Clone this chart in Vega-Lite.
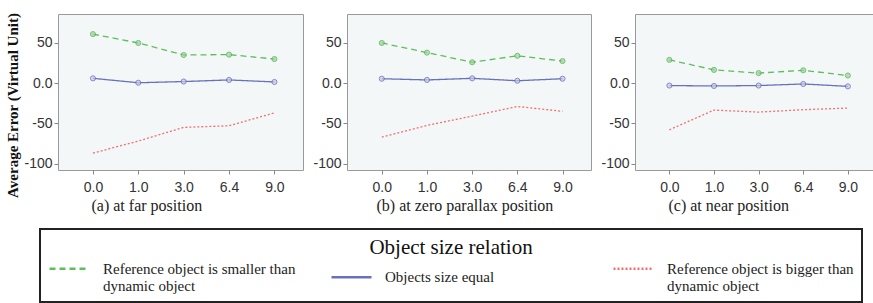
{
  "$schema": "https://vega.github.io/schema/vega-lite/v6.json",
  "padding": {"left": 5, "top": 11, "right": 0, "bottom": 0},
  "background": "white",
  "spacing": 8,
  "data": {"values": [
    {"panel": "a", "speed": "0.0", "series": "Reference object is smaller than dynamic object", "error": 61},
    {"panel": "a", "speed": "1.0", "series": "Reference object is smaller than dynamic object", "error": 50},
    {"panel": "a", "speed": "3.0", "series": "Reference object is smaller than dynamic object", "error": 35},
    {"panel": "a", "speed": "6.4", "series": "Reference object is smaller than dynamic object", "error": 35.5},
    {"panel": "a", "speed": "9.0", "series": "Reference object is smaller than dynamic object", "error": 30},
    {"panel": "a", "speed": "0.0", "series": "Objects size equal", "error": 6},
    {"panel": "a", "speed": "1.0", "series": "Objects size equal", "error": 0.5},
    {"panel": "a", "speed": "3.0", "series": "Objects size equal", "error": 2},
    {"panel": "a", "speed": "6.4", "series": "Objects size equal", "error": 4},
    {"panel": "a", "speed": "9.0", "series": "Objects size equal", "error": 1.5},
    {"panel": "a", "speed": "0.0", "series": "Reference object is bigger than dynamic object", "error": -87},
    {"panel": "a", "speed": "1.0", "series": "Reference object is bigger than dynamic object", "error": -72},
    {"panel": "a", "speed": "3.0", "series": "Reference object is bigger than dynamic object", "error": -55},
    {"panel": "a", "speed": "6.4", "series": "Reference object is bigger than dynamic object", "error": -53},
    {"panel": "a", "speed": "9.0", "series": "Reference object is bigger than dynamic object", "error": -37},
    {"panel": "b", "speed": "0.0", "series": "Reference object is smaller than dynamic object", "error": 50},
    {"panel": "b", "speed": "1.0", "series": "Reference object is smaller than dynamic object", "error": 38},
    {"panel": "b", "speed": "3.0", "series": "Reference object is smaller than dynamic object", "error": 26},
    {"panel": "b", "speed": "6.4", "series": "Reference object is smaller than dynamic object", "error": 34},
    {"panel": "b", "speed": "9.0", "series": "Reference object is smaller than dynamic object", "error": 27.5},
    {"panel": "b", "speed": "0.0", "series": "Objects size equal", "error": 5.5},
    {"panel": "b", "speed": "1.0", "series": "Objects size equal", "error": 4},
    {"panel": "b", "speed": "3.0", "series": "Objects size equal", "error": 6},
    {"panel": "b", "speed": "6.4", "series": "Objects size equal", "error": 3},
    {"panel": "b", "speed": "9.0", "series": "Objects size equal", "error": 5.5},
    {"panel": "b", "speed": "0.0", "series": "Reference object is bigger than dynamic object", "error": -67},
    {"panel": "b", "speed": "1.0", "series": "Reference object is bigger than dynamic object", "error": -52.5},
    {"panel": "b", "speed": "3.0", "series": "Reference object is bigger than dynamic object", "error": -41},
    {"panel": "b", "speed": "6.4", "series": "Reference object is bigger than dynamic object", "error": -29},
    {"panel": "b", "speed": "9.0", "series": "Reference object is bigger than dynamic object", "error": -35},
    {"panel": "c", "speed": "0.0", "series": "Reference object is smaller than dynamic object", "error": 29},
    {"panel": "c", "speed": "1.0", "series": "Reference object is smaller than dynamic object", "error": 16.5},
    {"panel": "c", "speed": "3.0", "series": "Reference object is smaller than dynamic object", "error": 12.5},
    {"panel": "c", "speed": "6.4", "series": "Reference object is smaller than dynamic object", "error": 16},
    {"panel": "c", "speed": "9.0", "series": "Reference object is smaller than dynamic object", "error": 9.5},
    {"panel": "c", "speed": "0.0", "series": "Objects size equal", "error": -3},
    {"panel": "c", "speed": "1.0", "series": "Objects size equal", "error": -3.5},
    {"panel": "c", "speed": "3.0", "series": "Objects size equal", "error": -3},
    {"panel": "c", "speed": "6.4", "series": "Objects size equal", "error": -1},
    {"panel": "c", "speed": "9.0", "series": "Objects size equal", "error": -4},
    {"panel": "c", "speed": "0.0", "series": "Reference object is bigger than dynamic object", "error": -58},
    {"panel": "c", "speed": "1.0", "series": "Reference object is bigger than dynamic object", "error": -33.5},
    {"panel": "c", "speed": "3.0", "series": "Reference object is bigger than dynamic object", "error": -36},
    {"panel": "c", "speed": "6.4", "series": "Reference object is bigger than dynamic object", "error": -33},
    {"panel": "c", "speed": "9.0", "series": "Reference object is bigger than dynamic object", "error": -31}
  ]},
  "config": {
    "view": {"stroke": "#9a9a9a", "strokeWidth": 1, "fill": "#f4f7f7"},
    "axis": {"labelFont": "Liberation Sans", "labelFontSize": 14, "labelColor": "#333333", "tickColor": "#888888", "domain": false, "grid": false, "tickSize": 4, "labelPadding": 2},
    "legend": {
      "orient": "none", "legendX": -18, "legendY": 215, "direction": "horizontal", "columns": 3, "gridAlign": "all", "columnPadding": 30,
      "titleFont": "Liberation Serif", "titleFontSize": 21, "titleFontWeight": "normal", "titleColor": "#111111", "titleAnchor": "middle", "titlePadding": -11,
      "labelFont": "Liberation Serif", "labelFontSize": 15, "labelColor": "#222222", "labelLimit": 300, "labelOffset": 12,
      "symbolType": "stroke", "symbolSize": 1600, "symbolStrokeWidth": 2.5,
      "strokeColor": "#222222", "strokeWidth": 2, "padding": 8
    }
  },
  "hconcat": [
    {
      "width": 245, "height": 156,
      "transform": [{"filter": "datum.panel == 'a'"}],
      "encoding": {
        "x": {"field": "speed", "type": "ordinal", "sort": ["0.0", "1.0", "3.0", "6.4", "9.0"], "scale": {"type": "point", "padding": 0.7, "align": 0.55},
              "axis": {"labelAngle": 0, "labelPadding": 6, "title": "(a)  at far position", "titleFont": "Liberation Serif", "titleFontSize": 16, "titleFontWeight": "normal", "titleColor": "#222222", "titleX": 33, "titleAlign": "left", "titlePadding": 3}},
        "y": {"field": "error", "type": "quantitative", "scale": {"domain": [-108, 86], "nice": false, "zero": false},
              "axis": {"values": [-100, -50, 0, 50], "labelExpr": "datum.value == 0 ? '0.0' : '' + datum.value", "title": "Average Error (Virtual Unit)", "titleFont": "Liberation Serif", "titleFontSize": 15, "titleFontWeight": "bold", "titleColor": "#111111", "titlePadding": 3, "titleY": 91}}
      },
      "layer": [
        {"mark": {"type": "line", "strokeWidth": 1.3},
         "encoding": {
           "color": {"field": "series", "type": "nominal", "title": "Object size relation",
             "legend": {"labelExpr": "split(replace(datum.label, ' than ', ' than|'), '|')"},
             "scale": {"domain": ["Reference object is smaller than dynamic object", "Objects size equal", "Reference object is bigger than dynamic object"], "range": ["#5cbf5c", "#6a70bd", "#ef7070"]}},
           "strokeDash": {"field": "series", "type": "nominal", "title": "Object size relation",
             "legend": {"labelExpr": "split(replace(datum.label, ' than ', ' than|'), '|')"},
             "scale": {"domain": ["Reference object is smaller than dynamic object", "Objects size equal", "Reference object is bigger than dynamic object"], "range": [[6, 4], [1, 0], [2, 2]]}}
         }},
        {"transform": [{"filter": "datum.series != 'Reference object is bigger than dynamic object'"}],
         "mark": {"type": "point", "size": 26, "strokeWidth": 1, "filled": false},
         "encoding": {
           "stroke": {"field": "series", "type": "nominal", "legend": null, "scale": {"domain": ["Reference object is smaller than dynamic object", "Objects size equal"], "range": ["#4aa84a", "#5a60b0"]}},
           "fill": {"field": "series", "type": "nominal", "legend": null, "scale": {"domain": ["Reference object is smaller than dynamic object", "Objects size equal"], "range": ["#9ad69a", "#c8cbe8"]}}
         }}
      ]
    },
    {
      "width": 244, "height": 156,
      "transform": [{"filter": "datum.panel == 'b'"}],
      "encoding": {
        "x": {"field": "speed", "type": "ordinal", "sort": ["0.0", "1.0", "3.0", "6.4", "9.0"], "scale": {"type": "point", "padding": 0.7, "align": 0.55},
              "axis": {"labelAngle": 0, "labelPadding": 6, "title": "(b)  at zero parallax position", "titleFont": "Liberation Serif", "titleFontSize": 16, "titleFontWeight": "normal", "titleColor": "#222222", "titleX": 29, "titleAlign": "left", "titlePadding": 3}},
        "y": {"field": "error", "type": "quantitative", "scale": {"domain": [-108, 86], "nice": false, "zero": false},
              "axis": {"values": [-100, -50, 0, 50], "labelExpr": "datum.value == 0 ? '0.0' : '' + datum.value", "title": null}}
      },
      "layer": [
        {"mark": {"type": "line", "strokeWidth": 1.3},
         "encoding": {
           "color": {"field": "series", "type": "nominal", "title": "Object size relation",
             "legend": {"labelExpr": "split(replace(datum.label, ' than ', ' than|'), '|')"},
             "scale": {"domain": ["Reference object is smaller than dynamic object", "Objects size equal", "Reference object is bigger than dynamic object"], "range": ["#5cbf5c", "#6a70bd", "#ef7070"]}},
           "strokeDash": {"field": "series", "type": "nominal", "title": "Object size relation",
             "legend": {"labelExpr": "split(replace(datum.label, ' than ', ' than|'), '|')"},
             "scale": {"domain": ["Reference object is smaller than dynamic object", "Objects size equal", "Reference object is bigger than dynamic object"], "range": [[6, 4], [1, 0], [2, 2]]}}
         }},
        {"transform": [{"filter": "datum.series != 'Reference object is bigger than dynamic object'"}],
         "mark": {"type": "point", "size": 26, "strokeWidth": 1, "filled": false},
         "encoding": {
           "stroke": {"field": "series", "type": "nominal", "legend": null, "scale": {"domain": ["Reference object is smaller than dynamic object", "Objects size equal"], "range": ["#4aa84a", "#5a60b0"]}},
           "fill": {"field": "series", "type": "nominal", "legend": null, "scale": {"domain": ["Reference object is smaller than dynamic object", "Objects size equal"], "range": ["#9ad69a", "#c8cbe8"]}}
         }}
      ]
    },
    {
      "width": 241, "height": 156,
      "transform": [{"filter": "datum.panel == 'c'"}],
      "encoding": {
        "x": {"field": "speed", "type": "ordinal", "sort": ["0.0", "1.0", "3.0", "6.4", "9.0"], "scale": {"type": "point", "padding": 0.7, "align": 0.55},
              "axis": {"labelAngle": 0, "labelPadding": 6, "title": "(c)  at near position", "titleFont": "Liberation Serif", "titleFontSize": 16, "titleFontWeight": "normal", "titleColor": "#222222", "titleX": 33, "titleAlign": "left", "titlePadding": 3}},
        "y": {"field": "error", "type": "quantitative", "scale": {"domain": [-108, 86], "nice": false, "zero": false},
              "axis": {"values": [-100, -50, 0, 50], "labelExpr": "datum.value == 0 ? '0.0' : '' + datum.value", "title": null}}
      },
      "layer": [
        {"mark": {"type": "line", "strokeWidth": 1.3},
         "encoding": {
           "color": {"field": "series", "type": "nominal", "title": "Object size relation",
             "legend": {"labelExpr": "split(replace(datum.label, ' than ', ' than|'), '|')"},
             "scale": {"domain": ["Reference object is smaller than dynamic object", "Objects size equal", "Reference object is bigger than dynamic object"], "range": ["#5cbf5c", "#6a70bd", "#ef7070"]}},
           "strokeDash": {"field": "series", "type": "nominal", "title": "Object size relation",
             "legend": {"labelExpr": "split(replace(datum.label, ' than ', ' than|'), '|')"},
             "scale": {"domain": ["Reference object is smaller than dynamic object", "Objects size equal", "Reference object is bigger than dynamic object"], "range": [[6, 4], [1, 0], [2, 2]]}}
         }},
        {"transform": [{"filter": "datum.series != 'Reference object is bigger than dynamic object'"}],
         "mark": {"type": "point", "size": 26, "strokeWidth": 1, "filled": false},
         "encoding": {
           "stroke": {"field": "series", "type": "nominal", "legend": null, "scale": {"domain": ["Reference object is smaller than dynamic object", "Objects size equal"], "range": ["#4aa84a", "#5a60b0"]}},
           "fill": {"field": "series", "type": "nominal", "legend": null, "scale": {"domain": ["Reference object is smaller than dynamic object", "Objects size equal"], "range": ["#9ad69a", "#c8cbe8"]}}
         }}
      ]
    }
  ]
}
